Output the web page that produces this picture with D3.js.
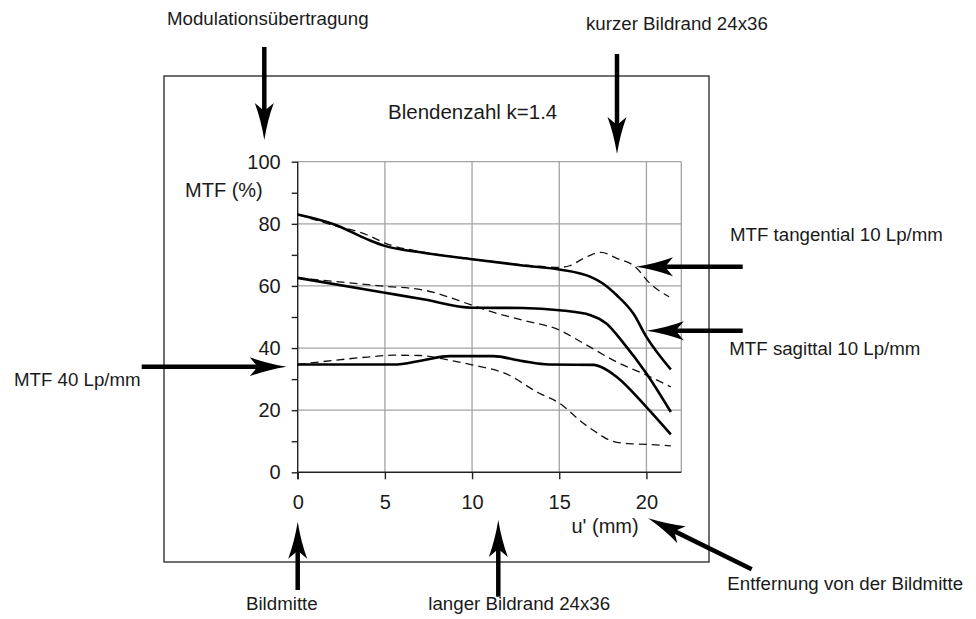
<!DOCTYPE html>
<html>
<head>
<meta charset="utf-8">
<script src="https://cdn.jsdelivr.net/npm/d3@7"></script>
<style>
  html, body { margin: 0; padding: 0; background: #fff; }
  svg { display: block; font-family: "Liberation Sans", Arial, sans-serif; }
</style>
</head>
<body>
<svg id="chart" width="976" height="619"></svg>
<script>
// ---------- data (x = u' in mm, y = MTF in %) ----------
const xTicks = [0, 5, 10, 15, 20];
const yTicks = [0, 20, 40, 60, 80, 100];
const yMinorTicks = [10, 30, 50, 70, 90];

// 10 Lp/mm
const sag10 = [[0,83],[2.1,79.8],[4,75],[5,72.9],[7.2,70.7],[10,68.6],[12.9,66.6],[15,65.3],[16.8,62.9],[17.5,60.8],[18.3,57],[19.25,51.1],[20,43.6],[21.4,33.1]];
const tan10 = [[0,83],[2,79.6],[4,76.4],[5,73.8],[7.2,70.9],[10,68.7],[12.9,66.8],[15,66.0],[15.6,66.5],[16.4,68.9],[17.4,70.8],[18.3,68.9],[19.35,66.2],[20.2,60.8],[21.3,56.5]];
// 20 Lp/mm
const sag20 = [[0,62.6],[5,57.8],[7.2,55.7],[10,53],[12.9,52.9],[15,52.2],[16.8,50.6],[17.7,47.9],[18.7,41.5],[20,31.8],[21.4,19.4]];
const tan20 = [[0,62.6],[2.4,61.3],[5,59.9],[7.2,58.7],[10,53.8],[11.1,51.7],[12.9,49],[15,45.8],[16.4,41.5],[18.3,35.5],[20,31.3],[21.4,27.5]];
// 40 Lp/mm
const sag40 = [[0,34.7],[5.5,34.7],[7.2,36.1],[8.7,37.4],[11.2,37.4],[12.9,35.8],[14.4,34.7],[17,34.6],[17.4,33.9],[18.3,30.7],[20,21],[21.4,12.2]];
const tan40 = [[0,34.7],[2,36],[4,37.1],[5.5,37.7],[7,37.6],[8.7,36.1],[10,34.6],[12,31.6],[13.8,25.6],[15,22.3],[16.4,15.7],[17.2,12.6],[17.9,10.3],[19,9.2],[20,9],[21.4,8.5]];

const solidSeries = [sag10, sag20, sag40];
const dashedSeries = [tan10, tan20, tan40];

const title = "Blendenzahl k=1.4";
const yLabel = "MTF (%)";
const xLabel = "u' (mm)";

// ---------- layout ----------
const svg = d3.select("#chart");
const x = d3.scaleLinear().domain([0, 22]).range([297.7, 681.3]);
const y = d3.scaleLinear().domain([0, 100]).range([472.3, 161.7]);
const ink = "#1a1a1a";
const chartFont = 20;
const noteFont = 18.7;

// frame
svg.append("rect")
  .attr("x", 164).attr("y", 76).attr("width", 545).attr("height", 486)
  .attr("fill", "none").attr("stroke", "#333").attr("stroke-width", 1.4);

// grid
const grid = svg.append("g").attr("stroke", "#a3a3a3").attr("stroke-width", 1.3);
grid.selectAll("line.v").data(xTicks.filter(d => d > 0).concat([22])).join("line")
  .attr("x1", d => x(d)).attr("x2", d => x(d)).attr("y1", y(0)).attr("y2", y(100));
grid.selectAll("line.h").data(yTicks.filter(d => d > 0)).join("line")
  .attr("x1", x(0)).attr("x2", x(22)).attr("y1", d => y(d)).attr("y2", d => y(d));

// axes
const yAxis = svg.append("g").attr("transform", `translate(${x(0)},0)`)
  .call(d3.axisLeft(y).tickValues(yTicks).tickSize(6).tickPadding(11).tickFormat(d3.format("d")));
svg.append("g").attr("transform", `translate(${x(0)},0)`)
  .call(d3.axisLeft(y).tickValues(yMinorTicks).tickSize(6).tickFormat(""))
  .call(g => g.select(".domain").remove());
const xAxis = svg.append("g").attr("transform", `translate(0,${y(0)})`)
  .call(d3.axisBottom(x).tickValues(xTicks).tickSize(7).tickPadding(16).tickSizeOuter(0));
xAxis.select(".domain").attr("d", `M${x(0)},0H${x(22)}`);
yAxis.select(".domain").attr("d", `M0,${y(100)}V${y(0) + 7}`);
svg.selectAll(".domain, .tick line").attr("stroke", "#222").attr("stroke-width", 1.4);
svg.selectAll(".tick text").attr("font-size", chartFont).attr("fill", ink)
  .attr("font-family", "Liberation Sans, Arial, sans-serif");

// curves
const line = d3.line().x(d => x(d[0])).y(d => y(d[1])).curve(d3.curveMonotoneX);
svg.append("g").selectAll("path").data(dashedSeries).join("path")
  .attr("d", line).attr("fill", "none").attr("stroke", "#111")
  .attr("stroke-width", 1.3).attr("stroke-dasharray", "8,5");
svg.append("g").selectAll("path").data(solidSeries).join("path")
  .attr("d", line).attr("fill", "none").attr("stroke", "#000")
  .attr("stroke-width", 2.6).attr("stroke-linejoin", "round");

// chart texts
svg.append("text").attr("x", 388).attr("y", 119).attr("font-size", 20.5).attr("fill", ink).text(title);
svg.append("text").attr("x", 185).attr("y", 197).attr("font-size", chartFont).attr("fill", ink).text(yLabel);
svg.append("text").attr("x", 571.5).attr("y", 533).attr("font-size", chartFont).attr("fill", ink).text(xLabel);

// annotations
const notes = [
  {t: "Modulationsübertragung", x: 167, y: 25},
  {t: "kurzer Bildrand 24x36", x: 586, y: 30},
  {t: "MTF tangential 10 Lp/mm", x: 730, y: 240.5},
  {t: "MTF sagittal 10 Lp/mm", x: 729.3, y: 355},
  {t: "MTF 40 Lp/mm", x: 14, y: 386},
  {t: "Bildmitte", x: 246, y: 610},
  {t: "langer Bildrand 24x36", x: 428.3, y: 610},
  {t: "Entfernung von der Bildmitte", x: 727.3, y: 590}
];
svg.append("g").selectAll("text").data(notes).join("text")
  .attr("x", d => d.x).attr("y", d => d.y).attr("font-size", noteFont).attr("fill", ink)
  .text(d => d.t);

// arrows: [tailX, tailY, tipX, tipY]
const arrows = [
  [264.3, 47, 264.3, 140],
  [617, 54, 617, 154],
  [742.7, 266.7, 636, 266.7],
  [742.7, 330.7, 646.7, 330.7],
  [141.7, 366.7, 286.7, 366.7],
  [297.7, 590, 297.7, 521.7],
  [498.3, 596.7, 498.3, 520],
  [751.7, 569.3, 648.3, 518.3]
];
const ag = svg.append("g");
arrows.forEach(([x1, y1, x2, y2]) => {
  const dx = x2 - x1, dy = y2 - y1, len = Math.hypot(dx, dy);
  const ux = dx / len, uy = dy / len, px = -uy, py = ux;
  const L = 37, W = 9.5, N = 29;
  const bx = x2 - ux * L, by = y2 - uy * L;
  const nx = x2 - ux * N, ny = y2 - uy * N;
  ag.append("line").attr("x1", x1).attr("y1", y1).attr("x2", nx).attr("y2", ny)
    .attr("stroke", "#000").attr("stroke-width", 4.5);
  const c1x = x2 - ux * L * 0.55 + px * W * 0.35, c1y = y2 - uy * L * 0.55 + py * W * 0.35;
  const c2x = x2 - ux * L * 0.55 - px * W * 0.35, c2y = y2 - uy * L * 0.55 - py * W * 0.35;
  const p = `M${x2},${y2} Q${c1x},${c1y} ${bx + px * W},${by + py * W} L${nx},${ny} L${bx - px * W},${by - py * W} Q${c2x},${c2y} ${x2},${y2}Z`;
  ag.append("path").attr("d", p).attr("fill", "#000");
});
</script>
</body>
</html>
